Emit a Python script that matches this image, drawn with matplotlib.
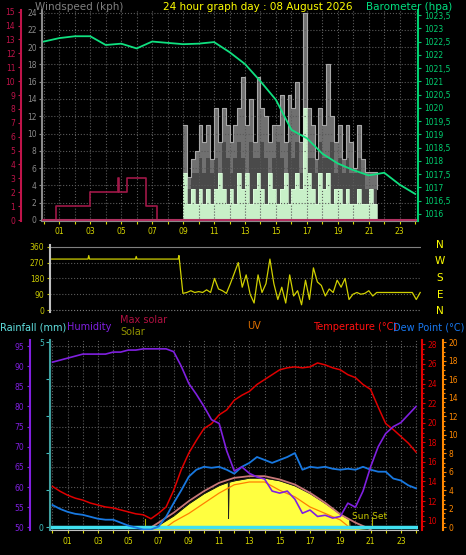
import matplotlib
matplotlib.use("Agg")
import matplotlib.pyplot as plt
from matplotlib.ticker import FuncFormatter, MultipleLocator

W, H = 466, 555
plt.rcParams['font.family'] = ['DejaVu Sans']

# ---------------- data ----------------
hours_1h = list(range(25))
baro = [1022.5, 1022.63, 1022.7, 1022.7, 1022.37, 1022.42, 1022.24, 1022.5, 1022.45, 1022.4,
        1022.42, 1022.48, 1022.1, 1021.65, 1021.0, 1020.3, 1019.17, 1018.85, 1018.27, 1017.9,
        1017.65, 1017.45, 1017.55, 1017.1, 1016.75]

step_t = [0, 0.8, 3.0, 4.8, 4.85, 5.35, 6.6, 7.3, 24]
step_v = [0, 1, 2, 3, 2, 3, 1, 0, 0]

wind_t = [9 + 0.25 * i for i in range(51)]
gust = [11, 5, 7, 8, 11, 9, 11, 7, 13, 9, 13, 11, 9, 11, 13, 16.5, 11, 14, 9, 16.5,
        13, 12, 9, 11, 11, 14.5, 9, 14.5, 13, 16, 9, 24, 13, 11, 7, 13, 11, 18, 12, 9,
        11, 7, 11, 9, 6, 11, 7, 5.5, 5.5, 5.5, 3.6]
gust_low = [5.4, 3.6, 5.4, 5.4, 7.2, 5.4, 7.2, 5.4, 7.2, 5.4, 9, 7.2, 5.4, 7.2, 9, 7.2, 5.4, 9, 7.2, 7.2,
            9, 7.2, 5.4, 7.2, 9, 7.2, 5.4, 9, 7.2, 9, 5.4, 9, 7.2, 7.2, 5.4, 9, 7.2, 7.2, 9, 5.4,
            7.2, 5.4, 7.2, 5.4, 5.4, 7.2, 5.4, 3.6, 3.6, 3.6, 1.8]
avg = [5.4, 1.8, 3.6, 1.8, 3.6, 1.8, 3.6, 1.8, 3.6, 5.4, 3.6, 1.8, 3.6, 1.8, 5.4, 3.6, 5.4, 1.8, 3.6, 5.4,
       3.6, 1.8, 5.4, 3.6, 1.8, 3.6, 5.4, 1.8, 3.6, 5.4, 3.6, 13, 5.4, 3.6, 1.8, 5.4, 3.6, 5.4, 1.8, 3.6,
       3.6, 1.8, 3.6, 1.8, 1.8, 3.6, 1.8, 1.8, 3.6, 1.8, 0]

dir_t = [0, 3.0, 3.05, 3.1, 6.0, 6.05, 6.1, 8.7, 8.75] + [9 + 0.25 * i for i in range(61)]
dir_v = [290, 290, 310, 290, 290, 305, 290, 290, 310] + [
    95, 100, 110, 100, 105, 100, 115, 100, 180, 120, 110, 95, 150, 210, 270, 130, 200, 90, 40, 200,
    100, 150, 290, 150, 60, 130, 40, 200, 80, 110, 30, 170, 60, 240, 160, 140, 80, 120, 100, 170,
    130, 180, 60, 90, 100, 90, 95, 110, 80, 100, 100, 100, 100, 100, 100, 100, 100, 100, 100, 60, 100]

half_t = [0.5 * i for i in range(49)]
humidity = [91, 91.5, 92, 92.5, 93, 93, 93, 93, 93.5, 93.5, 94, 94, 94.3, 94.3, 94.3, 94.3, 93.6, 90,
            85.7, 83, 80, 76.7, 75.8, 69, 64, 65, 63.4, 62.5, 62, 59, 58.5, 59, 57, 53.5, 54.3, 52.7,
            53, 52.3, 52.7, 56, 55, 59, 65, 70, 73.3, 75, 76, 78, 80]
temp = [13.5, 13.0, 12.6, 12.3, 12.1, 11.8, 11.6, 11.4, 11.3, 11.1, 10.9, 10.7, 10.6, 10.2, 10.75, 11.4,
        13.1, 15.2, 16.9, 18.2, 19.4, 19.9, 20.8, 21.3, 22.3, 22.8, 23.2, 23.9, 24.4, 24.9, 25.4, 25.6,
        25.7, 25.6, 25.7, 26.1, 25.9, 25.6, 25.4, 24.9, 24.6, 23.9, 23.4, 21.6, 19.9, 19.3, 18.6, 17.9, 17.0]
dew = [11.6, 11.2, 10.9, 10.7, 10.6, 10.4, 10.2, 10.1, 10.1, 9.8, 9.5, 9.3, 9.1, 9.1, 9.4, 10.4,
       11.8, 13.1, 14.5, 15.2, 15.5, 15.4, 15.5, 15.2, 14.8, 15.5, 15.9, 16.5, 16.2, 15.9, 16.2, 16.5,
       16.9, 15.2, 15.5, 15.4, 15.5, 15.3, 15.2, 15.3, 15.2, 15.5, 15.2, 15.0, 15.0, 14.3, 14.1, 13.6, 13.3]

sol_t = [6.3, 7, 8, 9, 10, 11, 12, 13, 14, 15, 16, 17, 18, 19, 20, 21]
max_solar = [0, 99, 246, 419, 567, 690, 764, 789, 789, 740, 665, 542, 394, 222, 99, 0]
solar_t = [6.4, 7, 8, 9, 10, 11, 11.6, 11.62, 11.65, 12, 13, 14, 15, 16, 17, 18, 19, 19.6, 19.65, 20, 21]
solar = [0, 60, 200, 380, 530, 650, 700, 160, 700, 720, 760, 760, 720, 645, 530, 385, 225, 140, 20, 15, 0]
uv_t = [7.5, 8, 9, 10, 11, 12, 13, 14, 15, 16, 17, 18, 19, 19.6, 24]
uv = [0, 0.6, 1.5, 2.6, 3.7, 4.6, 4.9, 4.9, 4.0, 3.3, 2.2, 1.5, 0.8, 0, 0]

xlabels = ['01', '03', '05', '07', '09', '11', '13', '15', '17', '19', '21', '23']
xticks = [1, 3, 5, 7, 9, 11, 13, 15, 17, 19, 21, 23]

# ---------------- helpers ----------------
fig = plt.figure(figsize=(W / 100, H / 100), dpi=100, facecolor='black')


def add_ax(x0, y0, x1, y1):
    a = fig.add_axes([x0 / W, (H - y1) / H, (x1 - x0) / W, (y1 - y0) / H])
    a.set_facecolor('black')
    for s in a.spines.values():
        s.set_visible(False)
    return a


def style_y(a, color, side, pos=None, fs=5.5):
    a.spines[side].set_visible(True)
    a.spines[side].set_color(color)
    a.spines[side].set_linewidth(1.5)
    if pos is not None:
        a.spines[side].set_position(('axes', pos))
    a.yaxis.set_ticks_position(side)
    a.tick_params(axis='y', colors=color, labelsize=fs, length=2.5, width=0.8, pad=1.5, which='both')
    a.tick_params(axis='y', which='minor', length=1.5)


YEL = '#d8d800'
GRID = dict(color='#5a5a5a', linestyle=':', linewidth=0.8)

# ---------------- top panel ----------------
ax1 = add_ax(42.3, 10, 418.3, 221)
ax1.set_xlim(-0.1, 24.2)
ax1.set_ylim(-0.12, 24.3)
ax1.set_yticks(range(0, 25, 2))
style_y(ax1, '#8a8a8a', 'left')
ax1.spines['bottom'].set_visible(True)
ax1.spines['bottom'].set_color('#8a8a8a')
ax1.set_xticks(range(0, 25))
ax1.set_xticklabels(['' if h % 2 == 0 else '%02d' % h for h in range(25)])
ax1.tick_params(axis='x', colors=YEL, labelsize=5.5, length=2, pad=2)
ax1.grid(True, **GRID)
ax1.fill_between(wind_t, gust, step='post', color='#707070', lw=0)
ax1.step(wind_t, gust, where='post', color='#a8a8a8', lw=0.8)
ax1.fill_between(wind_t, gust_low, step='post', color='#4a4a4a', lw=0)
ax1.fill_between(wind_t, avg, step='post', color='#c8f0c8', lw=0)
ax1.step(wind_t, avg, where='post', color='#e0ffe0', lw=0.5)

ax1r = ax1.twinx()
ax1r.set_facecolor('none')
for s in ax1r.spines.values():
    s.set_visible(False)
ax1r.set_ylim(-0.07, 15.12)
ax1r.set_yticks(range(0, 16))
style_y(ax1r, '#c0144a', 'left', pos=-0.057)
ax1r.step(step_t, step_v, where='post', color='#a01848', lw=1.2)
ax1r.axhline(0, color='#b03060', lw=1.5)

ax1b = ax1.twinx()
for s in ax1b.spines.values():
    s.set_visible(False)
ax1b.set_ylim(1015.73, 1023.69)
ax1b.set_yticks([1016 + 0.5 * i for i in range(16)])
ax1b.yaxis.set_major_formatter(FuncFormatter(lambda v, p: ('%g' % v).replace('.', ',')))
style_y(ax1b, '#00d070', 'right')
ax1b.plot(hours_1h, baro, color='#10e080', lw=1.3)

fig.text(35 / W, 1 - 7 / H, 'Windspeed (kph)', color='#808080', fontsize=7.5, va='center', ha='left')
fig.text(258 / W, 1 - 7 / H, '24 hour graph day : 08 August 2026', color='#ffff00', fontsize=7.5,
         va='center', ha='center')
fig.text(452 / W, 1 - 7 / H, 'Barometer (hpa)', color='#00e080', fontsize=7.5, va='center', ha='right')

# ---------------- wind direction ----------------
ax2 = add_ax(50, 245, 421, 312)
ax2.set_xlim(0.6, 24.05)
ax2.set_ylim(-11, 370)
ax2.set_yticks([0, 90, 180, 270, 360])
style_y(ax2, '#c8c800', 'left')
ax2.spines['left'].set_color('#c0c0c0')
ax2.set_xticks([])
for v in [90, 180, 270]:
    ax2.axhline(v, **GRID)
ax2.axhline(360, color='#808080', lw=0.8)
ax2.axhline(0, color='#808080', lw=0.8, ls=':')
ax2.plot(dir_t, dir_v, color='#d0d000', lw=0.9)
for lab, yy in zip(['N', 'W', 'S', 'E', 'N'], [245, 261, 278, 295, 311]):
    fig.text(440 / W, 1 - yy / H, lab, color='#ffff00', fontsize=7.5, ha='center', va='center')

# ---------------- bottom panel ----------------
ax3 = add_ax(50, 340, 418, 530)
ax3.set_xlim(-0.165, 24.13)
ax3.set_ylim(49.34, 96.5)
ax3.set_yticks(range(50, 96, 5))
style_y(ax3, '#8020e0', 'left', pos=(30 - 50) / 368)
ax3.spines['bottom'].set_visible(True)
ax3.spines['bottom'].set_color('#c0c0c0')
ax3.set_xticks(range(0, 25))
ax3.set_xticklabels(['' if h % 2 == 0 else '%02d' % h for h in range(25)])
ax3.tick_params(axis='x', colors=YEL, labelsize=5.5, length=2, pad=3)
ax3.grid(True, **GRID)
ax3.axvline(-0.165, color='#c0c0c0', lw=1.5)

axs = ax3.twinx()
for s in axs.spines.values():
    s.set_visible(False)
axs.set_ylim(-10, 2810)
axs.set_yticks([])
axs.fill_between(solar_t, solar, color='#ffff40', lw=0)
axs.plot(solar_t, solar, color='#202020', lw=0.6)
axs.plot(sol_t, max_solar, color='#c87878', lw=1.3)
axs.plot([6.1, 6.1], [20, 160], color='#b0b000', lw=0.8)
axs.plot([21.1, 21.1], [20, 190], color='#b0b000', lw=0.8)
axs.text(19.8, 190, 'Sun Set', color='#c8c800', fontsize=6.5, ha='left', va='center')

axu = ax3.twinx()
for s in axu.spines.values():
    s.set_visible(False)
axu.set_ylim(-0.29, 20.25)
axu.set_yticks(range(0, 21, 2))
axu.yaxis.set_minor_locator(MultipleLocator(0.5))
style_y(axu, '#ff8800', 'right', pos=(443 - 50) / 368)
axu.plot(uv_t, uv, color='#ff8000', lw=0.9)

axr = ax3.twinx()
for s in axr.spines.values():
    s.set_visible(False)
axr.set_ylim(-0.07, 5.06)
axr.set_yticks([0, 1, 2, 3, 4, 5])
axr.set_yticklabels(['0', '', '', '', '', '5'])
style_y(axr, '#40a0a0', 'left', pos=0)
axr.tick_params(axis='y', colors='#40c0c0', length=3)
axr.axhline(0, color='#40e0f0', lw=2.5)

axt = ax3.twinx()
for s in axt.spines.values():
    s.set_visible(False)
axt.set_ylim(9.05, 28.44)
axt.set_yticks(range(10, 29, 2))
axt.yaxis.set_minor_locator(MultipleLocator(0.5))
style_y(axt, '#e00000', 'right', pos=(421.7 - 50) / 368)
axt.plot(half_t, dew, color='#1878e0', lw=1.3)
axt.plot(half_t, temp, color='#e00000', lw=1.1)

ax3h = ax3.twinx()
ax3h.set_ylim(49.34, 96.5)
ax3h.set_yticks([])
for s in ax3h.spines.values():
    s.set_visible(False)
ax3h.plot(half_t, humidity, color='#8020e0', lw=1.2)

ty = 1 - 327 / H
fig.text(0 / W, ty, 'Rainfall (mm)', color='#60e0e0', fontsize=7, va='center', ha='left')
fig.text(67 / W, ty, 'Humidity', color='#8020e0', fontsize=7, va='center', ha='left')
fig.text(120 / W, 1 - 320 / H, 'Max solar', color='#b01040', fontsize=7, va='center', ha='left')
fig.text(120 / W, 1 - 332 / H, 'Solar', color='#909000', fontsize=7, va='center', ha='left')
fig.text(254 / W, 1 - 326 / H, 'UV', color='#e07000', fontsize=7, va='center', ha='center')
fig.text(313 / W, ty, 'Temperature (°C)', color='#ff1010', fontsize=7, va='center', ha='left')
fig.text(464 / W, ty, 'Dew Point (°C)', color='#1878f0', fontsize=7, va='center', ha='right')

fig.savefig('out.png', dpi=100, facecolor='black')
